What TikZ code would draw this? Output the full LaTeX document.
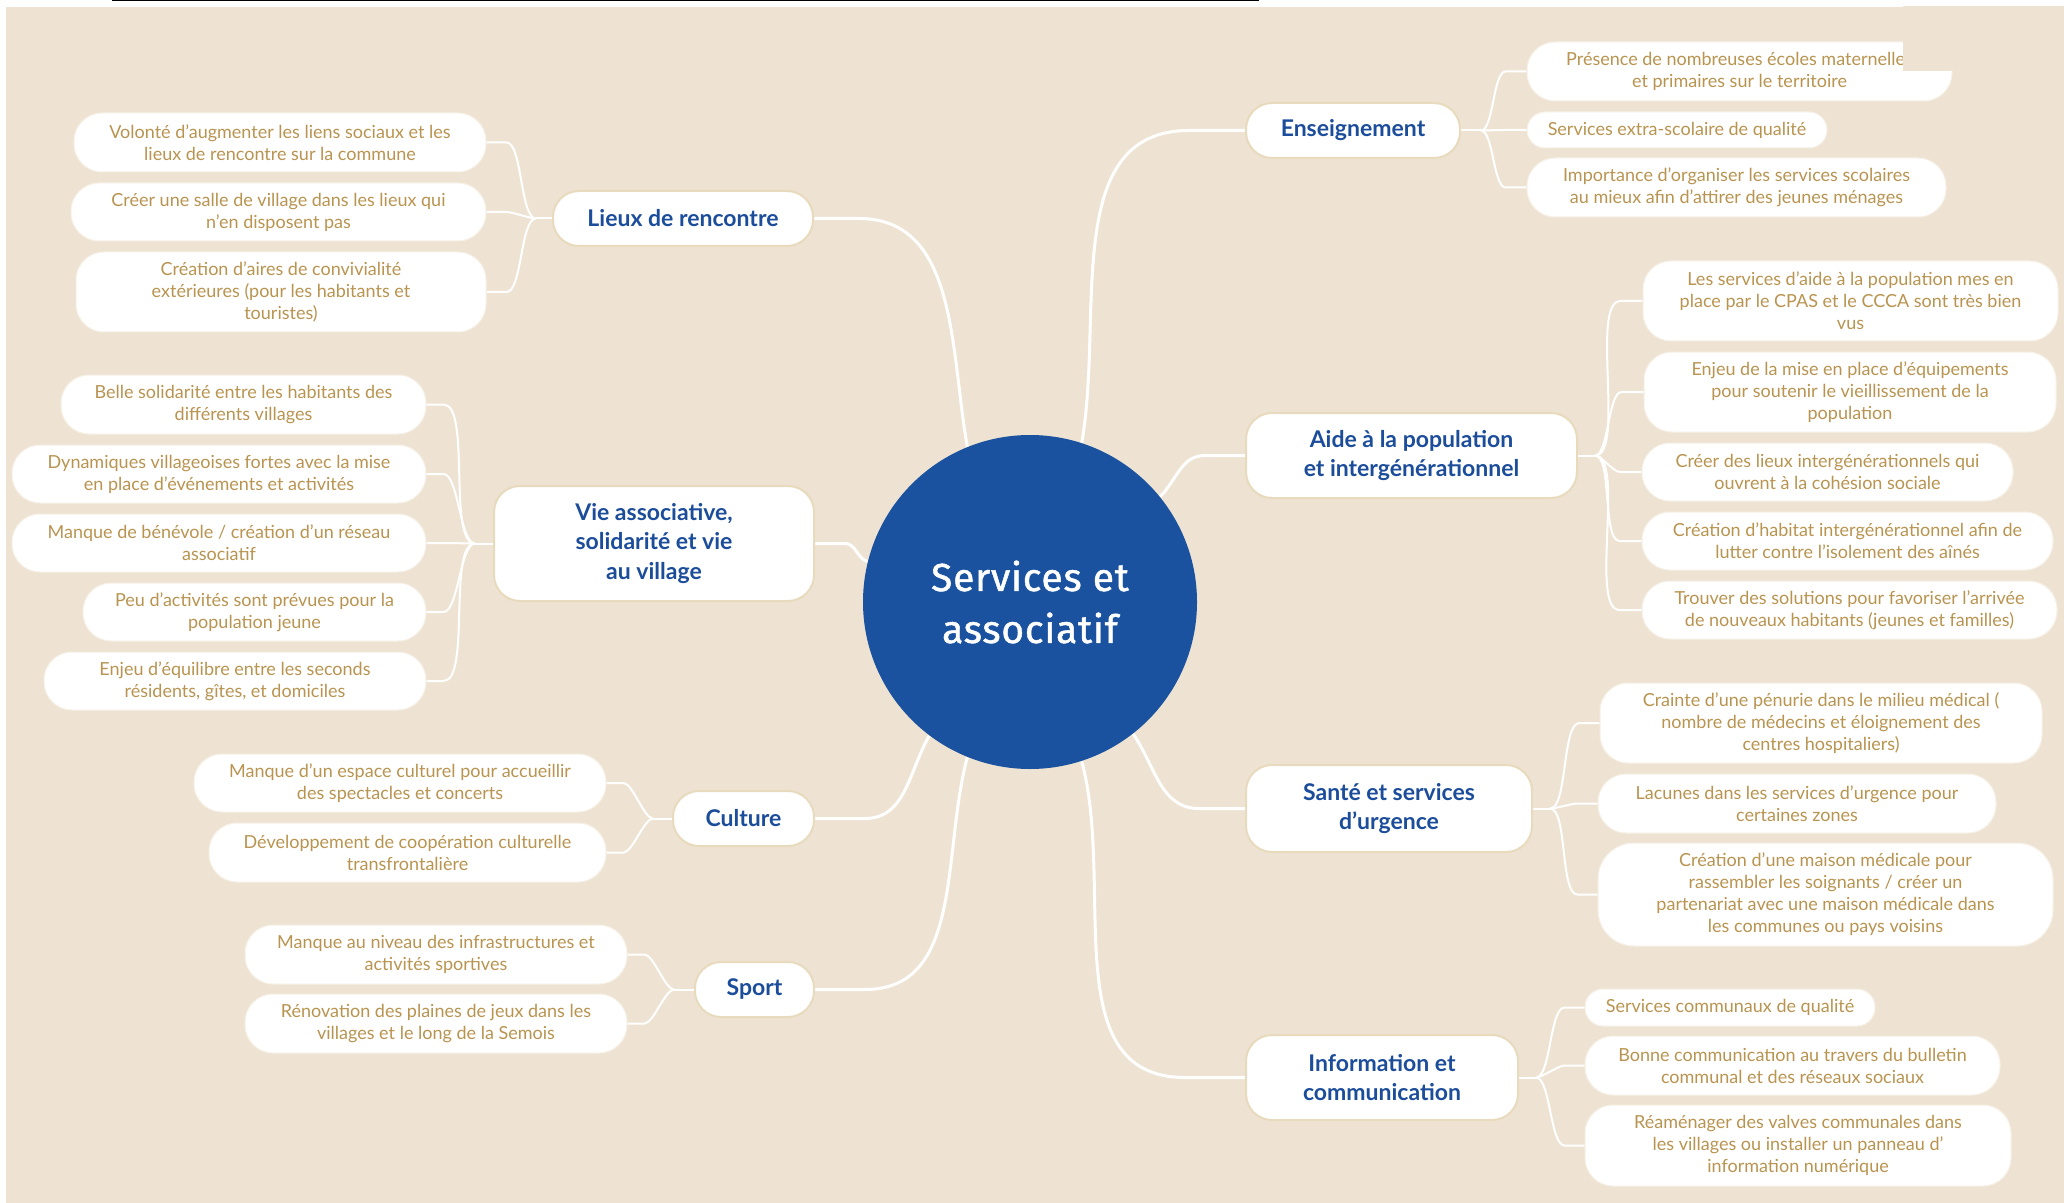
\documentclass[tikz,border=0pt]{standalone}
\usepackage{fontspec}
\setmainfont{Lato}
\newfontfamily\centerfont[FakeBold=1.2,LetterSpace=2]{Fira Sans}
\usetikzlibrary{calc}
\pgfdeclarelayer{bglayer}
\pgfdeclarelayer{linelayer}
\pgfsetlayers{bglayer,linelayer,main}
\definecolor{bgbeige}{RGB}{238,227,210}
\definecolor{leafgold}{RGB}{185,148,80}
\definecolor{topicblue}{RGB}{27,77,155}
\definecolor{circblue}{RGB}{26,82,160}
\definecolor{topicedge}{RGB}{232,218,188}
\definecolor{leafedge}{RGB}{246,240,230}
\begin{document}
\begin{tikzpicture}[x=0.5pt,y=-0.5pt,
  leaf/.style={fill=white, draw=leafedge, line width=0.5pt, rounded corners=14pt, align=center,
    font=\fontsize{9}{11}\selectfont, text=leafgold, inner sep=0pt},
  smallleaf/.style={leaf, rounded corners=9pt},
  topic/.style={fill=white, draw=topicedge, line width=1pt, rounded corners=13pt, align=center,
    font=\fontsize{11.5}{14.7}\selectfont\bfseries, text=topicblue, inner sep=0pt},
  mainlink/.style={draw=white, line width=1.5pt},
  sublink/.style={draw=white, line width=1pt},
]
\useasboundingbox (0,0) rectangle (2064,1203);
\begin{pgfonlayer}{bglayer}
  \fill[white] (0,0) rectangle (2064,1203);
  \fill[bgbeige] (6,7) rectangle (2064,1203);
  \draw[black, line width=0.75pt] (112,0.75) -- (1259,0.75);
\end{pgfonlayer}

% centre
\node[circle, fill=circblue, minimum size=167pt, inner sep=0pt, text=white, align=center,
  font=\centerfont\fontsize{19.5}{26}\selectfont] (c) at (1030,602) {Services et\\associatif};

% topics
\node[topic, minimum width=130pt, minimum height=27.5pt] (lieux) at (683,218.5) {Lieux de rencontre};
\node[topic, minimum width=160pt, minimum height=57.5pt] (vie) at (654,543.5) {Vie associative,\\solidarité et vie\\au village};
\node[topic, minimum width=70.5pt, minimum height=27.5pt] (culture) at (743.5,818.5) {Culture};
\node[topic, minimum width=59.5pt, minimum height=27.5pt] (sport) at (754.5,989.5) {Sport};
\node[topic, minimum width=107pt, minimum height=27.5pt] (ens) at (1353,130.5) {Enseignement};
\node[topic, minimum width=165.5pt, minimum height=42.5pt] (aide) at (1411.5,455.5) {Aide à la population\\et intergénérationnel};
\node[topic, minimum width=143pt, minimum height=43.5pt] (sante) at (1389,808.5) {Santé et services\\d'urgence};
\node[topic, minimum width=136pt, minimum height=42.5pt] (info) at (1382,1077.5) {Information et\\communication};

% leaves left
\node[leaf, minimum width=206pt, minimum height=29.5pt] (L1) at (280,142.5) {Volonté d'augmenter les liens sociaux et les\\lieux de rencontre sur la commune};
\node[leaf, minimum width=207.5pt, minimum height=29pt] (L2) at (278.5,212) {Créer une salle de village dans les lieux qui\\n'en disposent pas};
\node[leaf, minimum width=205pt, minimum height=40pt] (L3) at (281,292) {Création d'aires de convivialité\\extérieures (pour les habitants et\\touristes)};

\node[leaf, minimum width=182.5pt, minimum height=29.5pt] (V1) at (243.5,404.5) {Belle solidarité entre les habitants des\\différents villages};
\node[leaf, minimum width=207pt, minimum height=29pt] (V2) at (219,474) {Dynamiques villageoises fortes avec la mise\\en place d'événements et activités};
\node[leaf, minimum width=207pt, minimum height=29pt] (V3) at (219,543) {Manque de bénévole / création d'un réseau\\associatif};
\node[leaf, minimum width=171.5pt, minimum height=29pt] (V4) at (254.5,612) {Peu d'activités sont prévues pour la\\population jeune};
\node[leaf, minimum width=191pt, minimum height=29pt] (V5) at (235,681) {Enjeu d'équilibre entre les seconds\\résidents, gîtes, et domiciles};

\node[leaf, minimum width=206pt, minimum height=29pt] (C1) at (400,783) {Manque d'un espace culturel pour accueillir\\des spectacles et concerts};
\node[leaf, minimum width=198.5pt, minimum height=29.5pt] (C2) at (407.5,852.5) {Développement de coopération culturelle\\transfrontalière};

\node[leaf, minimum width=191pt, minimum height=29.5pt] (S1) at (436,954.5) {Manque au niveau des infrastructures et\\activités sportives};
\node[leaf, minimum width=191pt, minimum height=29.5pt] (S2) at (436,1023.5) {Rénovation des plaines de jeux dans les\\villages et le long de la Semois};

% leaves right
\node[leaf, minimum width=212.5pt, minimum height=29.5pt] (E1) at (1739.5,71.5) {Présence de nombreuses écoles maternelle\phantom{s}\\et primaires sur le territoire};
\fill[bgbeige] (1903,6) rectangle (2064,71);
\node[smallleaf, minimum width=150pt, minimum height=18pt] (E2) at (1677,130) {Services extra-scolaire de qualité};
\node[leaf, minimum width=209.5pt, minimum height=29.5pt] (E3) at (1736.5,187.5) {Importance d'organiser les services scolaires\\au mieux afin d'attirer des jeunes ménages};

\node[leaf, minimum width=207.5pt, minimum height=40pt] (A1) at (1850.5,301) {Les services d'aide à la population mes en\\place par le CPAS et le CCCA sont très bien\\vus};
\node[leaf, minimum width=206pt, minimum height=40pt] (A2) at (1850,392) {Enjeu de la mise en place d'équipements\\pour soutenir le vieillissement de la\\population};
\node[leaf, minimum width=185.5pt, minimum height=29pt] (A3) at (1827.5,472) {Créer des lieux intergénérationnels qui\\ouvrent à la cohésion sociale};
\node[leaf, minimum width=205.5pt, minimum height=29pt] (A4) at (1847.5,541) {Création d'habitat intergénérationnel afin de\\lutter contre l'isolement des aînés};
\node[leaf, minimum width=207.5pt, minimum height=29pt] (A5) at (1849.5,610) {Trouver des solutions pour favoriser l'arrivée\\de nouveaux habitants (jeunes et familles)};

\node[leaf, minimum width=221pt, minimum height=40pt] (H1) at (1821,723) {Crainte d'une pénurie dans le milieu médical (\\nombre de médecins et éloignement des\\centres hospitaliers)};
\node[leaf, minimum width=199pt, minimum height=29.5pt] (H2) at (1797,803.5) {Lacunes dans les services d'urgence pour\\certaines zones};
\node[leaf, minimum width=227.5pt, minimum height=51.5pt, rounded corners=18pt] (H3) at (1825.5,894.5) {Création d'une maison médicale pour\\rassembler les soignants / créer un\\partenariat avec une maison médicale dans\\les communes ou pays voisins};

\node[smallleaf, minimum width=145pt, minimum height=18.5pt] (I1) at (1730,1007.5) {Services communaux de qualité};
\node[leaf, minimum width=207.5pt, minimum height=29.5pt] (I2) at (1792.5,1065.5) {Bonne communication au travers du bulletin\\communal et des réseaux sociaux};
\node[leaf, minimum width=213pt, minimum height=40.5pt] (I3) at (1798,1145.5) {Réaménager des valves communales dans\\les villages ou installer un panneau d'\\information numérique};

\begin{pgfonlayer}{linelayer}
  % main links
  \draw[mainlink] (lieux.east) -- ++(45,0) to[out=0,in=100] (c.112);
  \draw[mainlink] (vie.east) -- ++(30,0) to[out=0,in=165] (c.166);
  \draw[mainlink] (culture.east) -- ++(50,0) to[out=0,in=-120] (c.-127);
  \draw[mainlink] (sport.east) -- ++(50,0) to[out=0,in=-105] (c.-112);
  \draw[mainlink] (ens.west) -- ++(-56,0) to[out=180,in=80] (c.72);
  \draw[mainlink] (aide.west) -- ++(-40,0) to[out=180,in=45] (c.39);
  \draw[mainlink] (sante.west) -- ++(-46,0) to[out=180,in=-55] (c.-52);
  \draw[mainlink] (info.west) -- ++(-60,0) to[out=180,in=-75] (c.-72);

  % sub links left
  \draw[sublink] (lieux.west) -- ++(-16,0) coordinate (jl);
  \foreach \n in {L1,L2,L3}
    \draw[sublink] (jl) to[out=180,in=0,looseness=0.5] ($(\n.east)+(20,0)$) -- (\n.east);
  \draw[sublink] (vie.west) -- ++(-18,0) coordinate (jv);
  \foreach \n in {V1,V2,V3,V4,V5}
    \draw[sublink] (jv) to[out=180,in=0,looseness=0.5] ($(\n.east)+(17,0)$) -- (\n.east);
  \draw[sublink] (culture.west) -- ++(-19,0) coordinate (jc);
  \foreach \n in {C1,C2}
    \draw[sublink] (jc) to[out=180,in=0,looseness=0.5] ($(\n.east)+(17,0)$) -- (\n.east);
  \draw[sublink] (sport.west) -- ++(-20,0) coordinate (js);
  \foreach \n in {S1,S2}
    \draw[sublink] (js) to[out=180,in=0,looseness=0.5] ($(\n.east)+(17,0)$) -- (\n.east);

  % sub links right
  \draw[sublink] (ens.east) -- ++(20,0) coordinate (je);
  \foreach \n in {E1,E2,E3}
    \draw[sublink] (je) to[out=0,in=180,looseness=0.5] ($(\n.west)+(-21,0)$) -- (\n.west);
  \draw[sublink] (aide.east) -- ++(17,0) coordinate (ja);
  \foreach \n in {A1,A2,A3,A4,A5}
    \draw[sublink] (ja) to[out=0,in=180,looseness=0.5] ($(\n.west)+(-22,0)$) -- (\n.west);
  \draw[sublink] (sante.east) -- ++(17,0) coordinate (jh);
  \foreach \n in {H1,H2,H3}
    \draw[sublink] (jh) to[out=0,in=180,looseness=0.5] ($(\n.west)+(-20,0)$) -- (\n.west);
  \draw[sublink] (info.east) -- ++(17,0) coordinate (ji);
  \foreach \n in {I1,I2,I3}
    \draw[sublink] (ji) to[out=0,in=180,looseness=0.5] ($(\n.west)+(-20,0)$) -- (\n.west);
\end{pgfonlayer}
\end{tikzpicture}
\end{document}
